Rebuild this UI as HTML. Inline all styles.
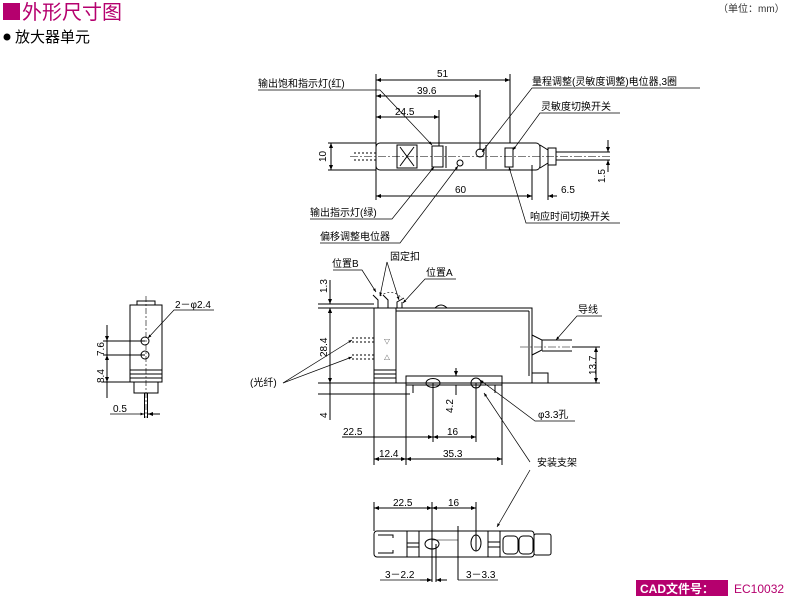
<!DOCTYPE html>
<html><head><meta charset="utf-8"><style>
html,body{margin:0;padding:0;background:#fff;}
svg{display:block;}
text{font-family:"Liberation Sans","Noto Sans CJK SC",sans-serif;fill:#000;}
</style></head><body>
<svg width="794" height="601" viewBox="0 0 794 601" xmlns="http://www.w3.org/2000/svg">
<defs>
<marker id="a" viewBox="0 0 10 10" refX="10" refY="5" markerWidth="7" markerHeight="5" orient="auto-start-reverse"><path d="M0,1 L10,5 L0,9 z" fill="#000"/></marker>
</defs>
<!-- header -->
<rect x="3" y="3" width="17" height="17" fill="#b5006e"/>
<text x="22" y="19" font-size="20" style="fill:#b5006e">外形尺寸图</text>
<text x="718" y="12" font-size="10" style="fill:#333">（单位：mm）</text>
<circle cx="7" cy="37" r="3.5" fill="#000"/>
<text x="15" y="42" font-size="15">放大器单元</text>
<!-- footer -->
<rect x="636" y="580" width="92" height="16" fill="#b5006e"/>
<text x="640" y="593" font-size="12" font-weight="bold" style="fill:#fff">CAD文件号：</text>
<text x="734" y="593" font-size="12" style="fill:#b5006e">EC10032</text>

<g stroke="#000" stroke-width="1" fill="none">
<!-- ===== TOP VIEW ===== -->
<rect x="376" y="143" width="164" height="27" rx="4"/>
<path d="M540,145 L548,150 L548,163 L540,168"/>
<rect x="548" y="148" width="8" height="17"/>
<line x1="556" y1="152" x2="610" y2="152"/><line x1="556" y1="160" x2="610" y2="160"/>
<line x1="354" y1="153" x2="376" y2="153" stroke-dasharray="2,2"/><line x1="354" y1="160" x2="376" y2="160" stroke-dasharray="2,2"/>
<line x1="350" y1="156.5" x2="612" y2="156.5" stroke-dasharray="8,2,2,2" stroke-width="0.6"/>
<rect x="397" y="145" width="20" height="23"/><line x1="400" y1="147" x2="414" y2="166"/><line x1="414" y1="147" x2="400" y2="166"/>
<rect x="432" y="146" width="11" height="21"/><line x1="446" y1="146" x2="446" y2="168"/>
<circle cx="480" cy="153" r="4"/><circle cx="460" cy="163" r="3"/>
<line x1="486" y1="145" x2="486" y2="169"/>
<rect x="505" y="148" width="8" height="19"/>
<!-- dims top -->
<line x1="376" y1="74" x2="376" y2="200"/><line x1="510" y1="74" x2="510" y2="143"/><line x1="480" y1="90" x2="480" y2="150"/><line x1="439" y1="110" x2="439" y2="146"/>
<line x1="376" y1="80" x2="510" y2="80" marker-start="url(#a)" marker-end="url(#a)"/>
<line x1="376" y1="96" x2="480" y2="96" marker-start="url(#a)" marker-end="url(#a)"/>
<line x1="376" y1="117" x2="439" y2="117" marker-start="url(#a)" marker-end="url(#a)"/>
<line x1="532" y1="165" x2="532" y2="200"/><line x1="548" y1="165" x2="548" y2="200"/>
<line x1="376" y1="196" x2="532" y2="196" marker-start="url(#a)" marker-end="url(#a)"/>
<line x1="557" y1="196" x2="548" y2="196" marker-end="url(#a)"/><line x1="525" y1="196" x2="532" y2="196" marker-end="url(#a)"/>
<line x1="328" y1="143" x2="376" y2="143"/><line x1="328" y1="170" x2="376" y2="170"/>
<line x1="331" y1="143" x2="331" y2="170" marker-start="url(#a)" marker-end="url(#a)"/>
<line x1="608" y1="140" x2="608" y2="152" marker-end="url(#a)"/><line x1="608" y1="172" x2="608" y2="160" marker-end="url(#a)"/>
<!-- leaders top -->
<polyline points="258,90 380,90 432,145" marker-end="url(#a)" stroke-width="0.7"/>
<polyline points="700,88 532,88 482,152" marker-end="url(#a)" stroke-width="0.7"/>
<polyline points="620,113 540,113 513,150" marker-end="url(#a)" stroke-width="0.7"/>
<polyline points="310,219 392,219 434,167" marker-end="url(#a)" stroke-width="0.7"/>
<polyline points="320,243 400,243 458,166" marker-end="url(#a)" stroke-width="0.7"/>
<polyline points="620,223 526,223 509,167" marker-end="url(#a)" stroke-width="0.7"/>

<!-- ===== SIDE VIEW ===== -->
<rect x="374" y="308" width="158" height="75"/>
<line x1="396" y1="311" x2="529" y2="311"/><line x1="529" y1="311" x2="529" y2="376"/>
<line x1="396" y1="308" x2="396" y2="383"/>
<line x1="374" y1="370" x2="396" y2="370"/><line x1="374" y1="374" x2="396" y2="374"/><line x1="374" y1="378" x2="396" y2="378"/>
<path d="M435,308 Q441,302 447,308"/>
<path d="M378,308 L378,300 L373,295 M388,308 L388,300 L383,295 M397,308 L397,302 L404,298 M402,308 L402,302"/>
<path d="M380,296 Q392,288 402,298" stroke-dasharray="2,2" stroke-width="0.6"/>
<rect x="406" y="376" width="96" height="9" fill="#fff"/>
<line x1="413" y1="385" x2="413" y2="393"/><line x1="495" y1="385" x2="495" y2="393"/>
<ellipse cx="433" cy="383" rx="7" ry="4.5"/><circle cx="476" cy="383" r="5"/>
<path d="M532,355 L542,350 L542,340 L532,335"/>
<line x1="542" y1="340" x2="572" y2="340"/><line x1="542" y1="351" x2="572" y2="351"/>
<rect x="532" y="373" width="16" height="10"/>
<line x1="520" y1="347" x2="576" y2="347" stroke-dasharray="8,2,2,2" stroke-width="0.6"/>
<line x1="352" y1="338" x2="374" y2="338" stroke-dasharray="2,2"/><line x1="352" y1="342" x2="374" y2="342" stroke-dasharray="2,2"/>
<line x1="352" y1="355" x2="374" y2="355" stroke-dasharray="2,2"/><line x1="352" y1="359" x2="374" y2="359" stroke-dasharray="2,2"/>
<!-- side dims -->
<line x1="318" y1="304" x2="374" y2="304"/><line x1="318" y1="308" x2="374" y2="308"/>
<line x1="318" y1="383" x2="600" y2="383"/><line x1="318" y1="394" x2="410" y2="394"/>
<line x1="330" y1="280" x2="330" y2="304" marker-end="url(#a)"/><line x1="330" y1="316" x2="330" y2="308" marker-end="url(#a)"/>
<line x1="330" y1="308" x2="330" y2="383" marker-start="url(#a)" marker-end="url(#a)"/>
<line x1="330" y1="383" x2="330" y2="420"/>
<line x1="596" y1="347" x2="596" y2="383" marker-start="url(#a)" marker-end="url(#a)"/>
<line x1="572" y1="347" x2="600" y2="347"/>
<line x1="456" y1="368" x2="456" y2="376" marker-end="url(#a)"/><line x1="456" y1="395" x2="456" y2="385"/>
<line x1="374" y1="383" x2="374" y2="465"/><line x1="406" y1="385" x2="406" y2="465"/>
<line x1="433" y1="383" x2="433" y2="442"/><line x1="476" y1="383" x2="476" y2="442"/><line x1="502" y1="385" x2="502" y2="465"/>
<line x1="342" y1="437" x2="433" y2="437" marker-end="url(#a)"/>
<line x1="433" y1="437" x2="476" y2="437" marker-start="url(#a)" marker-end="url(#a)"/>
<line x1="374" y1="459" x2="406" y2="459" marker-start="url(#a)" marker-end="url(#a)"/>
<line x1="406" y1="459" x2="502" y2="459" marker-start="url(#a)" marker-end="url(#a)"/>
<!-- side leaders -->
<polyline points="333,270 362,270 376,292" marker-end="url(#a)" stroke-width="0.7"/>
<line x1="387" y1="262" x2="380" y2="296" marker-end="url(#a)" stroke-width="0.7"/>
<line x1="387" y1="262" x2="399" y2="300" marker-end="url(#a)" stroke-width="0.7"/>
<polyline points="456,279 425,279 403,303" marker-end="url(#a)" stroke-width="0.7"/>
<polyline points="602,316 577,316 556,340" marker-end="url(#a)" stroke-width="0.7"/>
<polyline points="575,421 535,421 480,380" marker-end="url(#a)" stroke-width="0.7"/>
<line x1="283" y1="383" x2="352" y2="340" marker-end="url(#a)" stroke-width="0.7"/>
<line x1="283" y1="383" x2="352" y2="357" marker-end="url(#a)" stroke-width="0.7"/>
<line x1="530" y1="462" x2="484" y2="393" marker-end="url(#a)" stroke-width="0.7"/>
<line x1="530" y1="470" x2="497" y2="527" marker-end="url(#a)" stroke-width="0.7"/>

<!-- ===== BOTTOM VIEW ===== -->
<rect x="374" y="531" width="160" height="26" rx="3"/>
<rect x="534" y="534" width="17" height="21" rx="2"/>
<path d="M378,535 L393,535 L393,538 M378,553 L393,553 L393,550"/>
<line x1="407" y1="531" x2="407" y2="557"/><line x1="419" y1="531" x2="419" y2="557"/><line x1="407" y1="543" x2="419" y2="543"/><line x1="407" y1="547" x2="419" y2="547"/>
<line x1="488" y1="531" x2="488" y2="557"/><line x1="500" y1="531" x2="500" y2="557"/><line x1="488" y1="542" x2="500" y2="542"/><line x1="488" y1="547" x2="500" y2="547"/>
<rect x="503" y="536" width="15" height="18" rx="4"/><rect x="519" y="536" width="14" height="18" rx="4"/>
<ellipse cx="432" cy="544" rx="7" ry="5"/><ellipse cx="476" cy="543" rx="5" ry="8"/>
<line x1="432" y1="540" x2="458" y2="540" stroke-width="0.6"/>
<line x1="374" y1="502" x2="374" y2="531"/><line x1="432" y1="502" x2="432" y2="582"/><line x1="476" y1="502" x2="476" y2="551"/>
<line x1="374" y1="508" x2="432" y2="508" marker-start="url(#a)" marker-end="url(#a)"/>
<line x1="432" y1="508" x2="476" y2="508" marker-start="url(#a)" marker-end="url(#a)"/>
<line x1="436" y1="544" x2="436" y2="582"/><line x1="458" y1="526" x2="458" y2="580"/>
<line x1="380" y1="580" x2="420" y2="580" stroke-width="0.7"/>
<line x1="420" y1="580" x2="432" y2="580" marker-end="url(#a)"/><line x1="447" y1="580" x2="436" y2="580" marker-end="url(#a)"/>
<line x1="458" y1="580" x2="498" y2="580" stroke-width="0.7"/>

<!-- ===== LEFT VIEW ===== -->
<rect x="130" y="305" width="32" height="65"/>
<rect x="137" y="301" width="18" height="4"/>
<rect x="130" y="370" width="32" height="12"/>
<line x1="130" y1="374" x2="162" y2="374"/><line x1="130" y1="378" x2="162" y2="378"/>
<rect x="134" y="382" width="24" height="11"/>
<line x1="146" y1="296" x2="146" y2="418" stroke-dasharray="6,2,2,2" stroke-width="0.6"/>
<line x1="144.5" y1="393" x2="144.5" y2="418"/><line x1="147.5" y1="393" x2="147.5" y2="418"/>
<circle cx="145" cy="341" r="4"/><circle cx="145" cy="355" r="4"/>
<line x1="103" y1="341" x2="145" y2="341"/><line x1="103" y1="355" x2="145" y2="355"/><line x1="103" y1="382" x2="130" y2="382"/>
<line x1="107" y1="325" x2="107" y2="341" marker-end="url(#a)"/>
<line x1="107" y1="341" x2="107" y2="355"/>
<line x1="107" y1="355" x2="107" y2="382" marker-start="url(#a)" marker-end="url(#a)"/>
<line x1="107" y1="382" x2="107" y2="398"/>
<polyline points="214,310 174,310 148,338" marker-end="url(#a)" stroke-width="0.7"/>
<line x1="110" y1="414" x2="144" y2="414" stroke-width="0.7" marker-end="url(#a)"/>
<line x1="160" y1="414" x2="148" y2="414" marker-end="url(#a)"/>
</g>

<!-- labels -->
<g font-size="10">
<text x="258" y="87">输出饱和指示灯(红)</text>
<text x="437" y="77">51</text>
<text x="417" y="94">39.6</text>
<text x="395" y="115">24.5</text>
<text x="532" y="85">量程调整(灵敏度调整)电位器,3圈</text>
<text x="541" y="110">灵敏度切换开关</text>
<text x="455" y="193">60</text>
<text x="561" y="193">6.5</text>
<text x="310" y="216">输出指示灯(绿)</text>
<text x="320" y="240">偏移调整电位器</text>
<text x="530" y="220">响应时间切换开关</text>
<text transform="translate(326,162) rotate(-90)">10</text>
<text transform="translate(605,183) rotate(-90)">1.5</text>

<text x="332" y="267">位置B</text>
<text x="390" y="260">固定扣</text>
<text x="426" y="276">位置A</text>
<text x="578" y="313">导线</text>
<text transform="translate(327,293) rotate(-90)">1.3</text>
<text transform="translate(327,357) rotate(-90)">28.4</text>
<text transform="translate(327,418) rotate(-90)">4</text>
<text transform="translate(596,375) rotate(-90)">13.7</text>
<text transform="translate(453,413) rotate(-90)">4.2</text>
<text x="538" y="418">φ3.3孔</text>
<text x="343" y="435">22.5</text>
<text x="447" y="435">16</text>
<text x="379" y="457">12.4</text>
<text x="443" y="457">35.3</text>
<text x="537" y="466">安装支架</text>
<text x="250" y="386">(光纤)</text>
<text x="393" y="506">22.5</text>
<text x="448" y="506">16</text>
<text x="385" y="578">3－2.2</text>
<text x="466" y="578">3－3.3</text>
<text x="175" y="308">2－φ2.4</text>
<text transform="translate(104,356) rotate(-90)">7.6</text>
<text transform="translate(104,383) rotate(-90)">8.4</text>
<text x="113" y="412">0.5</text>
</g>
<g font-size="6" fill="#000"><text x="384" y="344">▽</text><text x="384" y="360">△</text></g>
</svg>
</body></html>
